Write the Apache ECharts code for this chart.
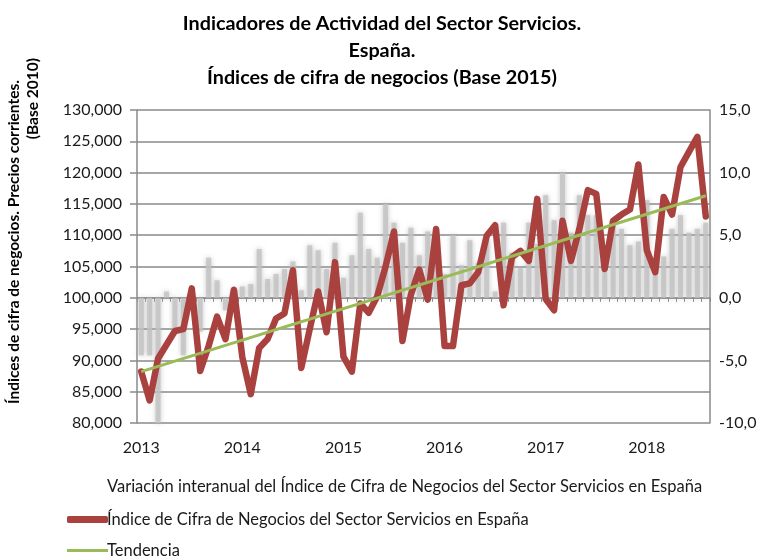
<!DOCTYPE html>
<html>
<head>
<meta charset="utf-8">
<script src="https://cdn.jsdelivr.net/npm/echarts@6/dist/echarts.min.js"></script>
<style>
  html, body { margin: 0; padding: 0; background: #fff; }
  #chart { width: 764px; height: 558px; }
</style>
</head>
<body>
<div id="chart"></div>
<script>
// ---- Data ----
const months = [
  '2013-01','2013-02','2013-03','2013-04','2013-05','2013-06','2013-07','2013-08','2013-09','2013-10','2013-11','2013-12',
  '2014-01','2014-02','2014-03','2014-04','2014-05','2014-06','2014-07','2014-08','2014-09','2014-10','2014-11','2014-12',
  '2015-01','2015-02','2015-03','2015-04','2015-05','2015-06','2015-07','2015-08','2015-09','2015-10','2015-11','2015-12',
  '2016-01','2016-02','2016-03','2016-04','2016-05','2016-06','2016-07','2016-08','2016-09','2016-10','2016-11','2016-12',
  '2017-01','2017-02','2017-03','2017-04','2017-05','2017-06','2017-07','2017-08','2017-09','2017-10','2017-11','2017-12',
  '2018-01','2018-02','2018-03','2018-04','2018-05','2018-06','2018-07','2018-08'
];
const yearLabels = ['2013','2014','2015','2016','2017','2018'];

// Índice de Cifra de Negocios (left axis)
const indexValues = [
  88200, 83600, 90300, 92500, 94700, 95000, 101500, 88300, 92300, 97000, 93400, 101300,
  90500, 84600, 92000, 93400, 96700, 97500, 104400, 88800, 95000, 101000, 94500, 105700,
  90600, 88200, 99100, 97600, 100200, 105000, 110600, 93100, 100500, 104500, 99700, 111000,
  92300, 92300, 102000, 102300, 104100, 109900, 111600, 98800, 106500, 107500, 105900, 115800,
  99800, 98000, 112300, 105900, 111000, 117200, 116600, 104600, 112300, 113300, 114100, 121300,
  107600, 104100, 116100, 113300, 120900, 123300, 125700, 113000
];

// Variación interanual (right axis, %)
const yoyValues = [
  -4.6, -4.6, -10.0, 0.5, -2.7, -4.6, -0.8, -2.7, 3.2, 1.4, -1.0, 0.6,
  0.9, 1.1, 3.9, 1.5, 1.9, 2.3, 2.9, 0.6, 4.2, 3.8, 2.3, 4.4,
  1.6, 3.4, 6.8, 3.9, 3.2, 7.5, 6.0, 4.4, 5.6, 3.4, 5.3, 5.0,
  1.9, 5.0, 2.6, 4.6, 2.8, 4.7, 0.5, 6.0, 3.6, 2.4, 6.0, 4.3,
  8.2, 6.2, 10.0, 5.2, 8.2, 6.6, 6.6, 4.2, 5.8, 5.5, 4.2, 4.5,
  7.8, 3.1, 3.3, 5.5, 6.6, 5.2, 5.5, 6.0
];

// Tendencia: start and end values
const trendEnds = [88200, 116300];

const nameBars = 'Variación interanual del Índice de Cifra de Negocios del Sector Servicios en España';
const nameIndex = 'Índice de Cifra de Negocios del Sector Servicios en España';
const nameTrend = 'Tendencia';

const trendData = months.map((m, i) =>
  i === 0 ? trendEnds[0] : (i === months.length - 1 ? trendEnds[1] : null));

const FONT = 'Lato, "Open Sans", sans-serif';
const gridColor = '#8a8a8a';

const chart = echarts.init(document.getElementById('chart'), null, { renderer: 'canvas' });

const legendText = { fontFamily: FONT, fontSize: 16.5, color: '#1a1a1a', padding: [0, 0, 0, -6] };

chart.setOption({
  animation: false,
  backgroundColor: '#fff',
  title: {
    text: 'Indicadores de Actividad del Sector Servicios.\nEspaña.\nÍndices de cifra de negocios (Base 2015)',
    left: 'center',
    top: 5,
    textStyle: { fontFamily: FONT, fontSize: 19.8, fontWeight: 'bold', color: '#000', lineHeight: 27 }
  },
  grid: { left: 137, right: 54, top: 110, bottom: 135, containLabel: false },
  legend: [
    {
      left: 62, top: 473, itemWidth: 41, itemHeight: 6, itemGap: 0,
      data: [{ name: nameBars, itemStyle: { opacity: 0 } }],
      textStyle: legendText, selectedMode: false
    },
    {
      left: 62, top: 506, itemWidth: 41, itemHeight: 7,
      data: [{ name: nameIndex, icon: 'roundRect' }],
      textStyle: legendText, selectedMode: false
    },
    {
      left: 62, top: 537, itemWidth: 41, itemHeight: 3,
      data: [{ name: nameTrend, icon: 'rect' }],
      textStyle: legendText, selectedMode: false
    }
  ],
  xAxis: {
    type: 'category',
    data: months,
    boundaryGap: true,
    axisLine: { lineStyle: { color: gridColor, width: 1.5 } },
    axisTick: { show: true, interval: 0, length: 4, lineStyle: { color: gridColor } },
    axisLabel: {
      interval: 0,
      margin: 17,
      fontFamily: FONT, fontSize: 16, color: '#1a1a1a',
      formatter: (v, i) => (i % 12 === 0 ? yearLabels[i / 12] : '')
    },
    splitLine: { show: false }
  },
  yAxis: [
    {
      type: 'value',
      min: 80000, max: 130000, interval: 5000,
      axisLine: { show: true, lineStyle: { color: gridColor, width: 1.5 } },
      axisTick: { show: true, length: 7, lineStyle: { color: gridColor, width: 1.5 } },
      axisLabel: {
        margin: 15,
        fontFamily: FONT, fontSize: 16, color: '#1a1a1a',
        formatter: v => v.toLocaleString('en-US')
      },
      splitLine: { show: true, lineStyle: { color: gridColor, width: 1.5 } }
    },
    {
      type: 'value',
      min: -10, max: 15, interval: 5,
      position: 'right',
      axisLine: { show: true, lineStyle: { color: gridColor, width: 1.5 } },
      axisTick: { show: false },
      axisLabel: {
        margin: 9,
        fontFamily: FONT, fontSize: 16, color: '#1a1a1a',
        formatter: v => v.toFixed(1).replace('.', ',')
      },
      splitLine: { show: false }
    }
  ],
  graphic: [
    {
      type: 'text', x: 14, y: 242, rotation: Math.PI / 2,
      style: {
        text: 'Índices de cifra de negocios. Precios corrientes.',
        fontFamily: FONT, fontSize: 15.5, fontWeight: 'bold', fill: '#000',
        textAlign: 'center', textVerticalAlign: 'middle'
      }
    },
    {
      type: 'text', x: 33, y: 58, rotation: Math.PI / 2,
      style: {
        text: '(Base 2010)',
        fontFamily: FONT, fontSize: 15.5, fontWeight: 'bold', fill: '#000',
        textAlign: 'right', textVerticalAlign: 'middle'
      }
    }
  ],
  series: [
    {
      name: nameBars,
      type: 'bar',
      yAxisIndex: 1,
      data: yoyValues,
      barWidth: 5,
      itemStyle: {
        color: 'rgba(195,195,195,0.8)',
        shadowBlur: 5,
        shadowColor: 'rgba(175,175,175,0.9)'
      },
      z: 1
    },
    {
      name: nameIndex,
      type: 'line',
      yAxisIndex: 0,
      data: indexValues,
      symbol: 'none',
      lineStyle: { color: '#A9423F', width: 6.5, join: 'round', cap: 'round' },
      itemStyle: { color: '#A9423F' },
      z: 3
    },
    {
      name: nameTrend,
      type: 'line',
      yAxisIndex: 0,
      data: trendData,
      connectNulls: true,
      symbol: 'none',
      lineStyle: { color: '#9BBB59', width: 3 },
      itemStyle: { color: '#9BBB59' },
      z: 4
    }
  ]
});
</script>
</body>
</html>
